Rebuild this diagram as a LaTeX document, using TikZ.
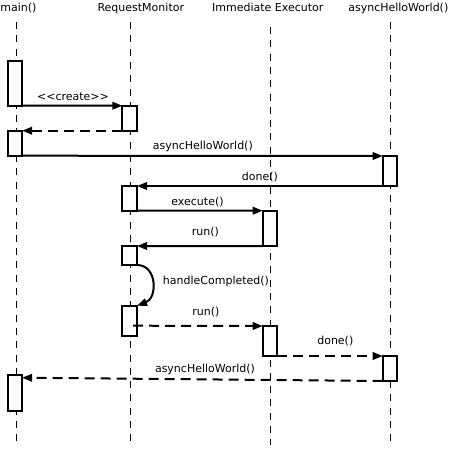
\documentclass[tikz,border=0pt]{standalone}
\usepackage{fontspec}
\setmainfont{DejaVu Sans}
\usetikzlibrary{arrows.meta}
\begin{document}
\begin{tikzpicture}[x=1pt,y=-1pt,
  every node/.style={font=\fontsize{11}{13}\selectfont},
  lifeline/.style={line width=1pt,dash pattern=on 7pt off 6.3pt},
  act/.style={draw,fill=white,line width=2pt,rectangle,minimum width=14.6pt,inner sep=0pt,outer sep=0pt,anchor=north},
  msg/.style={line width=2pt,-{Triangle[length=10pt,width=7.5pt]}},
  ret/.style={msg,dash pattern=on 10pt off 6pt},
  lbl/.style={anchor=base,inner sep=0pt}]
\useasboundingbox (0,0) rectangle (453,453);
% headers
\node[lbl] (hm) at (18.5,11.5) {main()};
\node[lbl] (hr) at (140.8,11.5) {RequestMonitor};
\node[lbl] (he) at (267.8,11.5) {Immediate Executor};
\node[lbl] (ha) at (398.3,11.5) {asyncHelloWorld()};
% lifelines
\coordinate (mt) at (16,22);   \coordinate (mb) at (16,447);
\coordinate (rt) at (130.5,22); \coordinate (rb) at (130.5,447);
\coordinate (et) at (270.5,27); \coordinate (eb) at (270.5,445);
\coordinate (at) at (390.5,22); \coordinate (ab) at (390.5,443);
\draw[lifeline] (mt) -- (mb);
\draw[lifeline] (rt) -- (rb);
\draw[lifeline] (et) -- (eb);
\draw[lifeline] (at) -- (ab);
% activation boxes
\node[act,minimum height=44.7pt] (m1) at (14.8,61) {};
\node[act,minimum height=25pt] (r1) at (129.7,105.7) {};
\node[act,minimum height=25pt] (m2) at (14.8,130.7) {};
\node[act,minimum height=30pt] (a1) at (390,156) {};
\node[act,minimum height=24.7pt] (r2) at (129.7,186) {};
\node[act,minimum height=35.3pt] (e1) at (270,210.7) {};
\node[act,minimum height=19pt] (r3) at (129.7,246) {};
\node[act,minimum height=30pt] (r4) at (129.7,305.7) {};
\node[act,minimum height=30pt] (e2) at (270,326) {};
\node[act,minimum height=25pt] (a2) at (390,356) {};
\node[act,minimum height=36pt] (m3) at (14.8,375) {};
\coordinate (rs) at (133,325.7);
\coordinate (mr) at (22.1,377.7);
% messages
\draw[msg] (m1.south east) -- (r1.north west);
\node[lbl] (l1) at (73,100.5) {{<}{<}create{>}{>}};
\draw[ret] (r1.south west) -- (m2.north east);
\draw[msg] (m2.south east) -- (a1.north west);
\node[lbl] (l2) at (202.8,149.5) {asyncHelloWorld()};
\draw[msg] (a1.south west) -- (r2.north east);
\node[lbl] (l3) at (260,180.7) {done()};
\draw[msg] (r2.south east) -- (e1.north west);
\node[lbl] (l4) at (197.5,205.3) {execute()};
\draw[msg] (e1.south west) -- (r3.north east);
\node[lbl] (l5) at (205.5,235) {run()};
\draw[msg] (r3.south east) .. controls (157.5,265) and (157.5,298) .. (r4.north east);
\node[lbl] (l6) at (216,284.5) {handleCompleted()};
\draw[ret] (rs) -- (e2.north west);
\node[lbl] (l7) at (206,315) {run()};
\draw[ret] (e2.south east) -- (a2.north west);
\node[lbl] (l8) at (335.3,344.8) {done()};
\draw[ret] (a2.south west) -- (mr);
\node[lbl] (l9) at (205,372.5) {asyncHelloWorld()};
\end{tikzpicture}
\end{document}
